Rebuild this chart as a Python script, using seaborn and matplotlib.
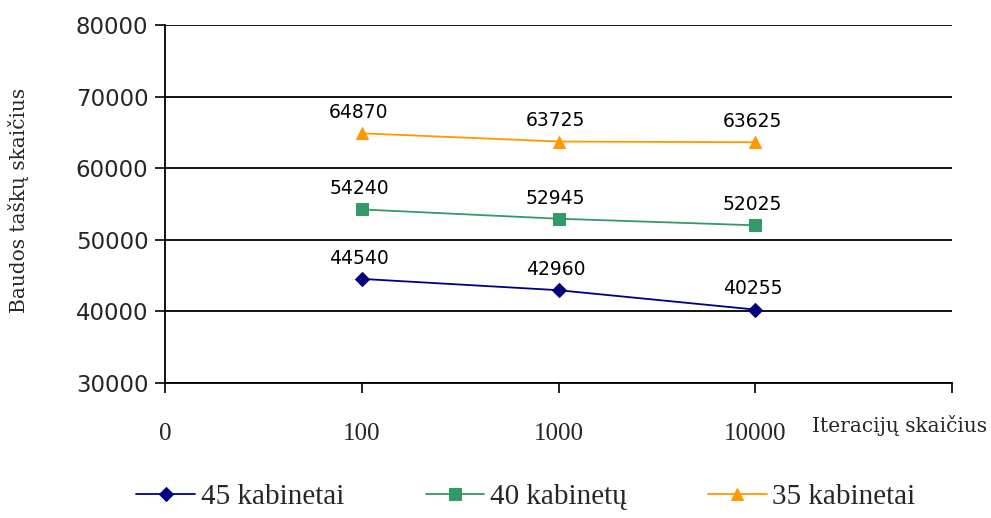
import matplotlib
matplotlib.use("Agg")
import matplotlib.pyplot as plt
import seaborn as sns
import pandas as pd

# Iteration counts and penalty-point results for each room count
iterations = ["100", "1000", "10000"]
tick_labels = ["0", "100", "1000", "10000", ""]
series_names = ["45 kabinetai", "40 kabinetų", "35 kabinetai"]
values_45 = [44540, 42960, 40255]
values_40 = [54240, 52945, 52025]
values_35 = [64870, 63725, 63625]

colors = ["#000080", "#339966", "#FF9900"]
markers = ["D", "s", "^"]
marker_sizes = [7, 8, 9]

rows = []
for name, vals in zip(series_names, [values_45, values_40, values_35]):
    for i, (it, v) in enumerate(zip(iterations, vals)):
        rows.append({"pos": i + 1, "iter": it, "value": v, "series": name})
df = pd.DataFrame(rows)

sns.set_theme(style="white")
fig = plt.figure(figsize=(9.91, 5.18), dpi=100)
ax = fig.add_axes([165 / 991, 1 - 383 / 518, (952 - 165) / 991, (383 - 25) / 518])

for name, col, mk, ms in zip(series_names, colors, markers, marker_sizes):
    sub = df[df["series"] == name]
    sns.lineplot(data=sub, x="pos", y="value", ax=ax, color=col, marker=mk,
                 markersize=ms, markeredgecolor=col, linewidth=1.3, label=name)
    for _, r in sub.iterrows():
        ax.annotate(f"{r['value']}", (r["pos"], r["value"]), xytext=(-2, 8),
                    textcoords="offset points", ha="center", va="bottom",
                    fontsize=13.5, family="DejaVu Sans", color="black")

ax.set_xlim(0, 4)
ax.set_ylim(30000, 80000)
ax.set_xticks(range(5))
ax.set_xticklabels(tick_labels, family="Liberation Serif", fontsize=18)
ax.set_yticks(range(30000, 80001, 10000))
ax.set_yticklabels([str(v) for v in range(30000, 80001, 10000)],
                   family="DejaVu Sans", fontsize=16.5)
ax.tick_params(axis="x", direction="out", length=7, width=1.2, color="black", pad=22)
ax.tick_params(axis="y", direction="out", length=7, width=1.2, color="black", pad=5)
ax.tick_params(bottom=True, left=True)

ax.yaxis.grid(True, color="black", linewidth=1.3)
ax.xaxis.grid(False)
for s in ["top", "right"]:
    ax.spines[s].set_visible(False)
for s in ["left", "bottom"]:
    ax.spines[s].set_color("black")
    ax.spines[s].set_linewidth(1.3)

ax.set_xlabel("")
ax.set_ylabel("")
fig.text(19 / 991, 1 - 200 / 518, "Baudos taškų skaičius", family="DejaVu Serif",
         fontsize=14.5, rotation=90, ha="center", va="center")
fig.text(812 / 991, 1 - 425 / 518, "Iteracijų skaičius", family="DejaVu Serif",
         fontsize=14.5, ha="left", va="center")

ax.legend(loc="center", bbox_to_anchor=((526 - 165) / 787, -(497 - 383) / 358), ncol=3,
          frameon=False, prop={"family": "Liberation Serif", "size": 21},
          handlelength=2.0, columnspacing=2.8, handletextpad=0.2)

fig.savefig("out.png", dpi=100)
